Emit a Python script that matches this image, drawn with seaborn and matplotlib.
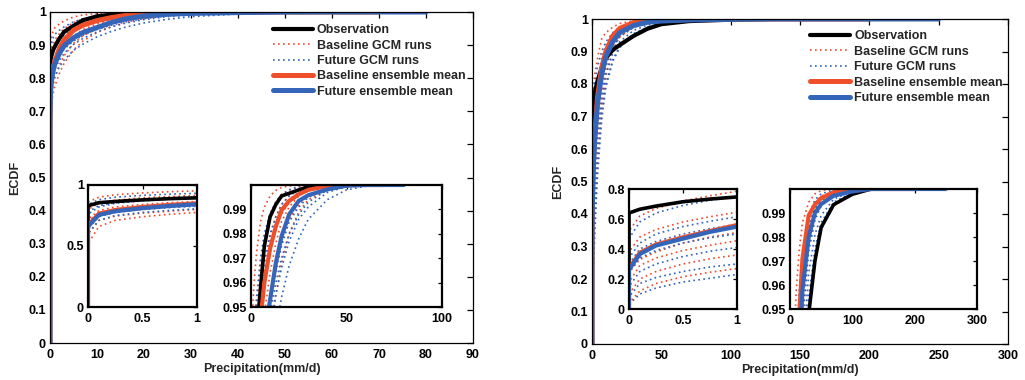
import numpy as np
import matplotlib
matplotlib.use("Agg")
import matplotlib.pyplot as plt
from matplotlib.lines import Line2D
from matplotlib.ticker import FuncFormatter
import seaborn as sns

nan = np.nan

# ---------------- Left panel: ECDF values on a precipitation grid (mm/d) ----------------
A_PRECIP = [0, 0.1, 0.25, 0.5, 0.75, 1, 2, 3, 5, 7, 10, 13, 16, 20, 25, 30, 40, 50, 60, 70, 80]
A_OBS = [0.83, 0.855, 0.865, 0.878, 0.888, 0.895, 0.92, 0.94, 0.958, 0.975, 0.987, 0.992, 0.9955,
         0.9966, 0.998, 0.9993, 1.0, nan, nan, nan, nan]
A_BASE_MEAN = [0.67, 0.765, 0.795, 0.82, 0.837, 0.85, 0.89, 0.915, 0.945, 0.96, 0.974, 0.983, 0.9897,
               0.9935, 0.9962, 0.998, 0.9996, 1.0, 1.0, 1.0, nan]
A_FUT_MEAN = [0.66, 0.755, 0.785, 0.81, 0.828, 0.842, 0.875, 0.898, 0.922, 0.938, 0.953, 0.968, 0.979,
              0.988, 0.9935, 0.9958, 0.9982, 0.9997, 1.0, 1.0, 1.0]
A_BASE_RUNS = [
    [0.86, 0.90, 0.92, 0.935, 0.945, 0.952, 0.964, 0.973, 0.985, 0.991, 0.9955, 0.9978, 0.999, 0.9996, 1.0, 1.0, 1.0, nan, nan, nan, nan],
    [0.80, 0.85, 0.875, 0.895, 0.905, 0.915, 0.935, 0.95, 0.968, 0.979, 0.988, 0.993, 0.9962, 0.998, 0.9992, 1.0, 1.0, 1.0, nan, nan, nan],
    [0.72, 0.79, 0.82, 0.84, 0.855, 0.865, 0.898, 0.922, 0.95, 0.965, 0.979, 0.987, 0.992, 0.9955, 0.998, 0.9993, 1.0, 1.0, nan, nan, nan],
    [0.66, 0.75, 0.78, 0.805, 0.82, 0.832, 0.87, 0.895, 0.928, 0.947, 0.964, 0.976, 0.985, 0.991, 0.9955, 0.998, 0.9996, 1.0, 1.0, nan, nan],
    [0.60, 0.71, 0.745, 0.77, 0.785, 0.80, 0.84, 0.868, 0.905, 0.928, 0.95, 0.965, 0.976, 0.986, 0.992, 0.9955, 0.999, 1.0, 1.0, 1.0, nan],
    [0.52, 0.66, 0.71, 0.74, 0.76, 0.775, 0.815, 0.845, 0.885, 0.912, 0.938, 0.955, 0.968, 0.98, 0.989, 0.994, 0.998, 0.9995, 1.0, 1.0, nan],
    [0.70, 0.77, 0.80, 0.825, 0.84, 0.85, 0.885, 0.91, 0.94, 0.958, 0.973, 0.982, 0.988, 0.993, 0.9965, 0.9985, 0.9998, 1.0, 1.0, nan, nan],
]
A_FUT_RUNS = [
    [0.84, 0.88, 0.90, 0.915, 0.925, 0.932, 0.945, 0.955, 0.97, 0.98, 0.988, 0.993, 0.996, 0.998, 0.9993, 1.0, 1.0, 1.0, nan, nan, nan],
    [0.76, 0.82, 0.85, 0.87, 0.885, 0.895, 0.915, 0.93, 0.948, 0.962, 0.975, 0.984, 0.99, 0.994, 0.997, 0.9985, 0.9997, 1.0, 1.0, nan, nan],
    [0.70, 0.77, 0.80, 0.825, 0.84, 0.85, 0.875, 0.893, 0.918, 0.935, 0.952, 0.965, 0.975, 0.985, 0.991, 0.995, 0.9985, 0.9997, 1.0, 1.0, nan],
    [0.64, 0.74, 0.775, 0.80, 0.815, 0.826, 0.855, 0.875, 0.902, 0.92, 0.94, 0.955, 0.966, 0.977, 0.986, 0.991, 0.997, 0.9993, 1.0, 1.0, 1.0],
    [0.60, 0.71, 0.75, 0.775, 0.792, 0.805, 0.835, 0.855, 0.884, 0.903, 0.925, 0.941, 0.954, 0.967, 0.978, 0.986, 0.994, 0.998, 0.9995, 1.0, 1.0],
    [0.78, 0.83, 0.855, 0.875, 0.888, 0.898, 0.925, 0.94, 0.958, 0.969, 0.98, 0.987, 0.992, 0.9955, 0.998, 0.9992, 1.0, 1.0, nan, nan, nan],
    [0.68, 0.76, 0.79, 0.815, 0.83, 0.84, 0.868, 0.888, 0.912, 0.93, 0.947, 0.96, 0.97, 0.98, 0.988, 0.993, 0.998, 0.9995, 1.0, 1.0, nan],
]

# ---------------- Right panel ----------------
B_PRECIP = [0, 0.1, 0.25, 0.5, 0.75, 1, 2, 4, 7, 10, 15, 20, 30, 40, 50, 70, 100, 130, 160, 200, 250]
B_OBS = [0.64, 0.665, 0.686, 0.715, 0.733, 0.747, 0.775, 0.81, 0.85, 0.88, 0.905, 0.92, 0.948, 0.97,
         0.984, 0.9935, 0.9978, 1.0, 1.0, 1.0, nan]
B_BASE_MEAN = [0.27, 0.375, 0.43, 0.478, 0.52, 0.56, 0.645, 0.76, 0.85, 0.90, 0.948, 0.971, 0.989,
               0.9935, 0.9962, 0.9985, 0.9998, 1.0, 1.0, 1.0, nan]
B_FUT_MEAN = [0.263, 0.366, 0.423, 0.469, 0.514, 0.549, 0.63, 0.74, 0.83, 0.885, 0.93, 0.958, 0.98,
              0.99, 0.9937, 0.9972, 0.999, 1.0, 1.0, 1.0, 1.0]
B_BASE_RUNS = [
    [0.52, 0.62, 0.67, 0.72, 0.755, 0.785, 0.83, 0.88, 0.94, 0.958, 0.975, 0.986, 0.9945, 0.998, 0.9993, 1.0, 1.0, nan, nan, nan, nan],
    [0.38, 0.48, 0.53, 0.58, 0.615, 0.645, 0.72, 0.81, 0.88, 0.92, 0.955, 0.972, 0.988, 0.9945, 0.997, 0.9992, 1.0, 1.0, nan, nan, nan],
    [0.28, 0.38, 0.43, 0.48, 0.515, 0.545, 0.64, 0.75, 0.845, 0.90, 0.945, 0.967, 0.985, 0.993, 0.9965, 0.999, 1.0, 1.0, 1.0, nan, nan],
    [0.18, 0.29, 0.34, 0.39, 0.425, 0.455, 0.56, 0.70, 0.815, 0.88, 0.935, 0.962, 0.983, 0.9915, 0.9955, 0.9985, 0.9998, 1.0, 1.0, nan, nan],
    [0.10, 0.20, 0.25, 0.30, 0.335, 0.36, 0.47, 0.63, 0.77, 0.85, 0.92, 0.955, 0.98, 0.99, 0.995, 0.9982, 0.9996, 1.0, 1.0, 1.0, nan],
    [0.04, 0.12, 0.17, 0.215, 0.245, 0.27, 0.39, 0.57, 0.73, 0.825, 0.905, 0.945, 0.976, 0.988, 0.994, 0.998, 0.9995, 1.0, 1.0, nan, nan],
    [0.25, 0.33, 0.38, 0.44, 0.48, 0.51, 0.61, 0.73, 0.835, 0.895, 0.942, 0.966, 0.986, 0.9935, 0.9968, 0.9992, 1.0, 1.0, nan, nan, nan],
]
B_FUT_RUNS = [
    [0.47, 0.58, 0.64, 0.69, 0.725, 0.75, 0.80, 0.855, 0.90, 0.93, 0.958, 0.974, 0.989, 0.9955, 0.998, 0.9996, 1.0, 1.0, nan, nan, nan],
    [0.34, 0.44, 0.50, 0.55, 0.585, 0.615, 0.69, 0.78, 0.855, 0.90, 0.94, 0.962, 0.983, 0.992, 0.996, 0.999, 1.0, 1.0, 1.0, nan, nan],
    [0.24, 0.34, 0.39, 0.44, 0.475, 0.50, 0.59, 0.70, 0.80, 0.86, 0.915, 0.945, 0.974, 0.987, 0.993, 0.9975, 0.9995, 1.0, 1.0, 1.0, nan],
    [0.15, 0.25, 0.30, 0.35, 0.385, 0.41, 0.51, 0.64, 0.755, 0.83, 0.895, 0.93, 0.965, 0.981, 0.989, 0.9958, 0.999, 0.9998, 1.0, 1.0, 1.0],
    [0.08, 0.17, 0.21, 0.25, 0.28, 0.30, 0.41, 0.57, 0.71, 0.80, 0.875, 0.915, 0.955, 0.975, 0.986, 0.9945, 0.9985, 0.9997, 1.0, 1.0, 1.0],
    [0.03, 0.10, 0.14, 0.18, 0.205, 0.23, 0.34, 0.52, 0.69, 0.79, 0.87, 0.912, 0.952, 0.972, 0.983, 0.993, 0.998, 0.9995, 1.0, 1.0, nan],
    [0.30, 0.40, 0.45, 0.50, 0.535, 0.565, 0.65, 0.755, 0.84, 0.89, 0.935, 0.96, 0.982, 0.9915, 0.9958, 0.9988, 1.0, 1.0, nan, nan, nan],
]

LEGEND_LABELS = ["Observation", "Baseline GCM runs", "Future GCM runs",
                 "Baseline ensemble mean", "Future ensemble mean"]
XLABEL = "Precipitation(mm/d)"
YLABEL = "ECDF"

# ---------------- style ----------------
sns.set_theme(style="white")
plt.rcParams["font.family"] = ["Liberation Sans", "DejaVu Sans"]
plt.rcParams["font.weight"] = "bold"
plt.rcParams["axes.labelweight"] = "bold"

RED = "#EE4F2A"
BLUE = "#3465B8"
RED_RUN = "#EE4A2C"
BLUE_RUN = "#2F62BE"
DOT = (0, (1.0, 2.0))
FS = 9

fmt = FuncFormatter(lambda v, p: f"{v:g}")


def draw_curves(ax, precip, obs, bmean, fmean, bruns, fruns, main=True):
    x = np.r_[0.0, np.asarray(precip, float)]
    lw_obs = 3.0 if main else 2.6
    lw_mean = 3.6 if main else 3.0
    for run in bruns:
        sns.lineplot(x=x, y=np.r_[0.0, run], ax=ax, color=RED_RUN, lw=1.2, linestyle=DOT,
                     estimator=None, sort=False)
    for run in fruns:
        sns.lineplot(x=x, y=np.r_[0.0, run], ax=ax, color=BLUE_RUN, lw=1.2, linestyle=DOT,
                     estimator=None, sort=False)
    sns.lineplot(x=x, y=np.r_[0.0, obs], ax=ax, color="black", lw=lw_obs, estimator=None, sort=False)
    sns.lineplot(x=x, y=np.r_[0.0, bmean], ax=ax, color=RED, lw=lw_mean, estimator=None, sort=False)
    sns.lineplot(x=x, y=np.r_[0.0, fmean], ax=ax, color=BLUE, lw=lw_mean, estimator=None, sort=False)


def style_axes(ax, inset=False):
    for s in ax.spines.values():
        s.set_visible(True)
        s.set_color("black")
        s.set_linewidth(1.6 if inset else 0.9)
    ax.tick_params(direction="in", top=True, right=True, length=3 if inset else 4,
                   width=0.9, labelsize=FS, pad=3, colors="black")
    ax.tick_params(axis="x", pad=4)
    ax.set_xlabel("")
    ax.set_ylabel("")
    ax.set_facecolor("white")


fig = plt.figure(figsize=(10.25, 3.8), dpi=100)
W, H = 1025.0, 380.0


def rect(l, t, r, b):
    return [l / W, 1 - b / H, (r - l) / W, (b - t) / H]


panels = [
    dict(main=rect(50, 12, 473, 343), small=rect(88, 185, 197, 307), tail=rect(251, 185, 442, 307),
         precip=A_PRECIP, obs=A_OBS, bm=A_BASE_MEAN, fm=A_FUT_MEAN, br=A_BASE_RUNS, fr=A_FUT_RUNS,
         xmax=90, xstep=10, small_ymax=1.0, small_yticks=[0, 0.5, 1], tail_xmax=100,
         tail_xticks=[0, 50, 100], leg=(0.527, 0.963), ylab=-0.068),
    dict(main=rect(592, 19, 1008, 344), small=rect(629, 189, 737, 309), tail=rect(790, 189, 977, 309),
         precip=B_PRECIP, obs=B_OBS, bm=B_BASE_MEAN, fm=B_FUT_MEAN, br=B_BASE_RUNS, fr=B_FUT_RUNS,
         xmax=300, xstep=50, small_ymax=0.8, small_yticks=[0, 0.2, 0.4, 0.6, 0.8], tail_xmax=300,
         tail_xticks=[0, 100, 200, 300], leg=(0.525, 0.965), ylab=-0.067),
]

for P in panels:
    ax = fig.add_axes(P["main"])
    draw_curves(ax, P["precip"], P["obs"], P["bm"], P["fm"], P["br"], P["fr"], main=True)
    style_axes(ax)
    ax.set_xlim(0, P["xmax"])
    ax.set_ylim(0, 1)
    ax.set_xticks(np.arange(0, P["xmax"] + 1, P["xstep"]))
    ax.set_yticks(np.round(np.arange(0, 1.01, 0.1), 1))
    ax.xaxis.set_major_formatter(fmt)
    ax.yaxis.set_major_formatter(fmt)
    ax.set_xlabel(XLABEL, fontsize=FS, fontweight="bold")
    ax.set_ylabel(YLABEL, fontsize=FS, fontweight="bold")
    ax.xaxis.set_label_coords(0.5, -0.06)
    ax.yaxis.set_label_coords(P["ylab"], 0.5)

    handles = [
        Line2D([], [], color="black", lw=3.0),
        Line2D([], [], color=RED_RUN, lw=1.2, linestyle=DOT),
        Line2D([], [], color=BLUE_RUN, lw=1.2, linestyle=DOT),
        Line2D([], [], color=RED, lw=3.6),
        Line2D([], [], color=BLUE, lw=3.6),
    ]
    ax.legend(handles, LEGEND_LABELS, loc="upper left", bbox_to_anchor=P["leg"], frameon=False,
              fontsize=FS, handlelength=3.2, handletextpad=0.3, labelspacing=0.27,
              borderpad=0, borderaxespad=0)

    # small-precipitation inset
    ai = fig.add_axes(P["small"])
    draw_curves(ai, P["precip"], P["obs"], P["bm"], P["fm"], P["br"], P["fr"], main=False)
    style_axes(ai, inset=True)
    ai.set_xlim(0, 1)
    ai.set_ylim(0, P["small_ymax"])
    ai.set_xticks([0, 0.5, 1])
    ai.set_yticks(P["small_yticks"])
    ai.xaxis.set_major_formatter(fmt)
    ai.yaxis.set_major_formatter(fmt)

    # upper-tail inset
    at = fig.add_axes(P["tail"])
    draw_curves(at, P["precip"], P["obs"], P["bm"], P["fm"], P["br"], P["fr"], main=False)
    style_axes(at, inset=True)
    at.set_xlim(0, P["tail_xmax"])
    at.set_ylim(0.95, 1.0)
    at.set_xticks(P["tail_xticks"])
    at.set_yticks([0.95, 0.96, 0.97, 0.98, 0.99])
    at.xaxis.set_major_formatter(fmt)
    at.yaxis.set_major_formatter(FuncFormatter(lambda v, p: f"{v:.2f}"))

fig.savefig("out.png", dpi=100, facecolor="white")
